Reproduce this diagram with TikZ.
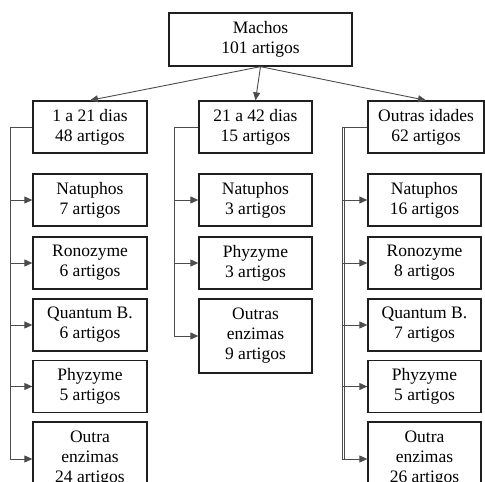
\documentclass[tikz,border=0pt]{standalone}
\usepackage{fontspec}
\setmainfont{Liberation Serif}
\usetikzlibrary{arrows.meta}
\begin{document}
\begin{tikzpicture}[x=1pt,y=-1pt,
  box/.style={draw=black!88,line width=1.3pt,fill=white,align=center,inner sep=0pt,
    font=\fontsize{17.5}{20}\selectfont},
  top/.style={box,minimum width=183pt,minimum height=53pt},
  grp/.style={box,minimum width=114pt,minimum height=52pt},
  kid/.style={box,minimum width=114pt,minimum height=52pt},
  kid3/.style={box,minimum width=114pt,minimum height=74pt},
  conn/.style={draw=black!70,line width=0.9pt},
  arr/.style={conn,-{Triangle[length=8pt,width=7pt]}}]
\useasboundingbox (0,0) rectangle (485,482);
\clip (0,0) rectangle (485,482);
% top
\node[top] (m) at (260.5,39.5) {Machos\\101 artigos};
\node[grp] (g1) at (90,127) {1 a 21 dias\\48 artigos};
\node[grp,minimum width=113pt] (g2) at (255.5,127) {21 a 42 dias\\15 artigos};
\node[grp,minimum width=116pt] (g3) at (426,127) {Outras idades\\62 artigos};
\draw[arr] (m.south) -- (g1.north);
\draw[arr] (m.south) -- (g2.north);
\draw[arr] (m.south) -- (g3.north);
% left column
\node[kid] (a1) at (90,200) {Natuphos\\7 artigos};
\node[kid] (a2) at (90,263) {Ronozyme\\6 artigos};
\node[kid] (a3) at (90,325) {Quantum B.\\6 artigos};
\node[kid] (a4) at (90,386.5) {Phyzyme\\5 artigos};
\node[kid3] (a5) at (90,459) {Outra\\enzimas\\24 artigos};
% middle column
\node[kid,minimum width=113pt] (b1) at (255.5,200) {Natuphos\\3 artigos};
\node[kid,minimum width=113pt] (b2) at (255.5,263) {Phyzyme\\3 artigos};
\node[kid3,minimum width=113pt] (b3) at (255.5,336) {Outras\\enzimas\\9 artigos};
% right column
\node[kid,minimum width=113pt] (c1) at (424.5,200) {Natuphos\\16 artigos};
\node[kid,minimum width=113pt] (c2) at (424.5,263) {Ronozyme\\8 artigos};
\node[kid,minimum width=113pt] (c3) at (424.5,325) {Quantum B.\\7 artigos};
\node[kid,minimum width=113pt] (c4) at (424.5,386.5) {Phyzyme\\5 artigos};
\node[kid3,minimum width=113pt] (c5) at (424.5,459) {Outra\\enzimas\\26 artigos};
% trunks
\coordinate (t1) at (10,127);
\coordinate (t2) at (174,127);
\coordinate (t3) at (342,127);
\coordinate (t3b) at (344.5,127);
\draw[conn] (g1.west) -- (t1) -- (t1 |- a5.west);
\draw[conn] (g2.west) -- (t2) -- (t2 |- b3.west);
\draw[conn] (g3.west) -- (t3) -- (t3 |- c5.west);
\draw[conn] (t3b) -- (t3b |- c5.west);
\foreach \k in {a1,a2,a3,a4,a5} \draw[arr] (t1 |- \k.west) -- (\k.west);
\foreach \k in {b1,b2,b3} \draw[arr] (t2 |- \k.west) -- (\k.west);
\foreach \k in {c1,c2,c3,c4,c5} \draw[arr] (t3 |- \k.west) -- (\k.west);
\end{tikzpicture}
\end{document}
